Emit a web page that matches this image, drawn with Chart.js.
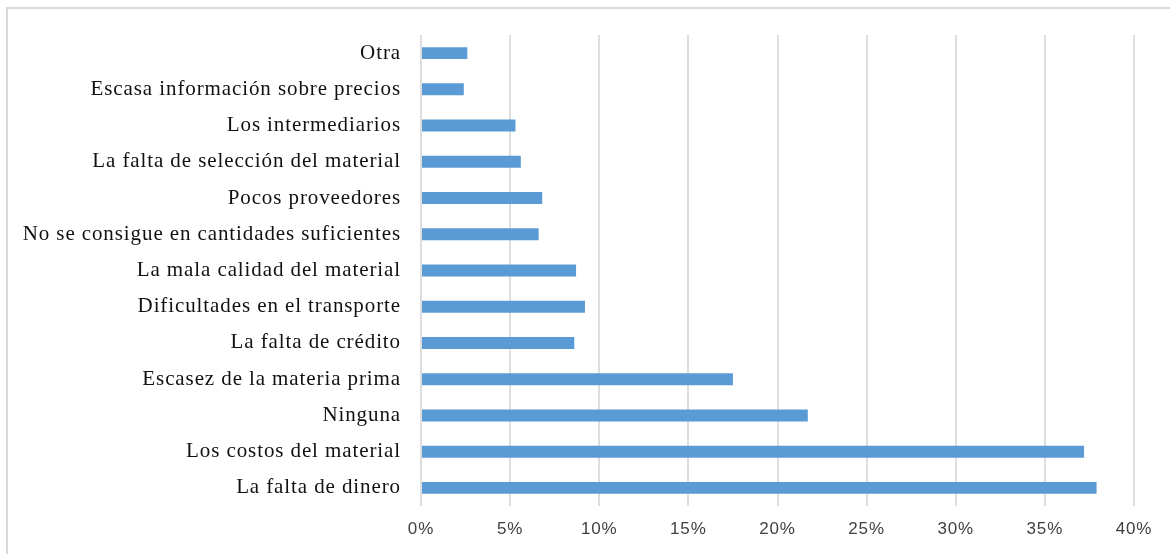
<!DOCTYPE html>
<html>
<head>
<meta charset="utf-8">
<script src="https://cdn.jsdelivr.net/npm/chart.js@4/dist/chart.umd.min.js"></script>
<style>
  html, body { margin: 0; padding: 0; background: #fff; }
  #wrap { width: 1170px; height: 554px; }
</style>
</head>
<body>
<div id="wrap"><canvas id="c"></canvas></div>
<script>
var labels = [
  "Otra",
  "Escasa información sobre precios",
  "Los intermediarios",
  "La falta de selección del material",
  "Pocos proveedores",
  "No se consigue en cantidades suficientes",
  "La mala calidad del material",
  "Dificultades en el transporte",
  "La falta de crédito",
  "Escasez de la materia prima",
  "Ninguna",
  "Los costos del material",
  "La falta de dinero"
];
var values = [2.6, 2.4, 5.3, 5.6, 6.8, 6.6, 8.7, 9.2, 8.6, 17.5, 21.7, 37.2, 37.9];
var xTicks = [0, 5, 10, 15, 20, 25, 30, 35, 40];

// the source text is set wide (Word style), so space the letters a bit
var spacingPlugin = {
  id: "spacing",
  beforeLayout: function (chart) { chart.ctx.letterSpacing = "0.9px"; },
  beforeDraw: function (chart) { chart.ctx.letterSpacing = "0.9px"; }
};

// thin frame around the chart, as in the source picture
var framePlugin = {
  id: "frame",
  beforeDraw: function (chart) {
    var ctx = chart.ctx;
    ctx.save();
    ctx.strokeStyle = "#d9d9d9";
    ctx.lineWidth = 2;
    ctx.beginPath();
    ctx.moveTo(7, 560);
    ctx.lineTo(7, 8);
    ctx.lineTo(1175, 8);
    ctx.stroke();
    ctx.restore();
  }
};

new Chart(document.getElementById("c"), {
  type: "bar",
  data: {
    labels: labels,
    datasets: [{
      data: values,
      backgroundColor: "#5b9bd5",
      categoryPercentage: 1,
      barPercentage: 0.33
    }]
  },
  options: {
    indexAxis: "y",
    responsive: true,
    maintainAspectRatio: false,
    animation: false,
    layout: {padding: {top: 35, right: 36, left: 0, bottom: 0}},
    plugins: {legend: {display: false}, tooltip: {enabled: false}},
    scales: {
      x: {
        min: 0,
        max: 40,
        afterBuildTicks: function (s) {
          s.ticks = xTicks.map(function (v) { return {value: v}; });
        },
        afterFit: function (s) { s.height = 48; },
        grid: {color: "#dedede", lineWidth: 2, drawTicks: false},
        border: {display: false},
        ticks: {
          padding: 13,
          color: "#404040",
          font: {family: "Liberation Sans", size: 17},
          callback: function (v) { return v + "%"; }
        }
      },
      y: {
        afterFit: function (s) { s.width = 421; },
        grid: {display: false, drawTicks: false},
        border: {display: false},
        ticks: {
          padding: 20,
          color: "#111",
          font: {family: "Liberation Serif", size: 21}
        }
      }
    }
  },
  plugins: [spacingPlugin, framePlugin]
});
</script>
</body>
</html>
